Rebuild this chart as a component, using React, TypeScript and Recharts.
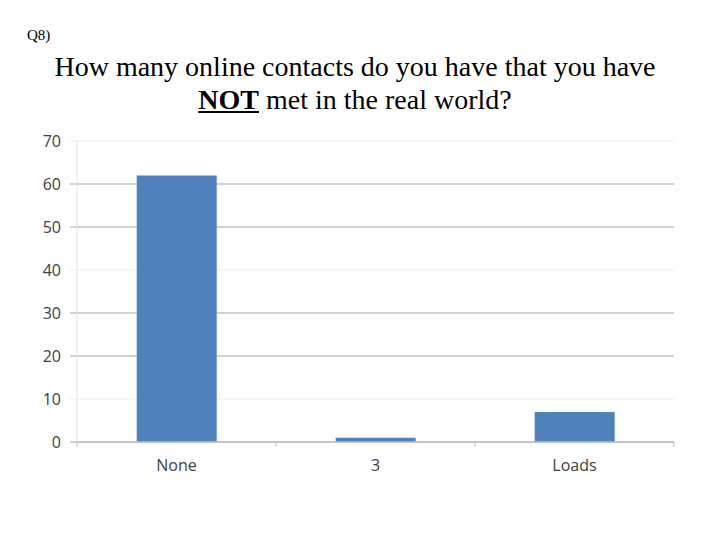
import React from "react";
import { BarChart, Bar, XAxis, YAxis, CartesianGrid } from "recharts";

// categories and counts
const categories = ["None", "3", "Loads"];
const counts = [62, 1, 7];
const yTicks = [0, 10, 20, 30, 40, 50, 60, 70];
const yMax = 70;
// gridlines that are barely visible in the original
const faintLines = [10, 40, 70];

const data = categories.map((name, i) => ({ name, count: counts[i] }));

const AXIS_TEXT = "#404040";
const GRID = "#c4c4c4";

// x tick: label in the middle, small tick marks on the category boundaries
function CategoryTick(props: any) {
  const { x, y, payload, index, width, visibleTicksCount } = props;
  const band = width / visibleTicksCount;
  const top = y - 5;
  return (
    <g>
      <line x1={x - band / 2} x2={x - band / 2} y1={top} y2={top + 5} stroke="#bfbfbf" />
      {index === visibleTicksCount - 1 && (
        <line x1={x + band / 2} x2={x + band / 2} y1={top} y2={top + 5} stroke="#bfbfbf" />
      )}
      <text x={x} y={y + 24} textAnchor="middle" fontSize={16} fill={AXIS_TEXT} fontFamily="'Open Sans', sans-serif">
        {payload.value}
      </text>
    </g>
  );
}

function GridLine(props: any) {
  const { x1, x2, y1, y2, offset } = props;
  const value = offset ? Math.round((yMax * (offset.top + offset.height - y1)) / offset.height) : 0;
  const faint = faintLines.includes(value);
  return <line x1={x1 - 7} x2={x2} y1={y1} y2={y2} stroke={faint ? "#f3f3f3" : GRID} strokeWidth={1.5} />;
}

export default function App() {
  return (
    <div style={{ position: "absolute", left: 0, top: 0, width: 720, height: 540, background: "#fff" }}>
      <div style={{ position: "absolute", left: 27, top: 27, fontFamily: "'Liberation Serif', serif", fontSize: 15 }}>
        Q8)
      </div>
      <div
        style={{
          position: "absolute",
          left: 0,
          top: 50,
          width: 710,
          textAlign: "center",
          fontFamily: "'Liberation Serif', serif",
          fontSize: 28,
          lineHeight: "33px",
        }}
      >
        How many online contacts do you have that you have
        <br />
        <b style={{ textDecoration: "underline" }}>NOT</b> met in the real world?
      </div>
      <div style={{ position: "absolute", left: 0, top: 0 }}>
        <BarChart
          width={720}
          height={540}
          data={data}
          margin={{ top: 141, right: 46, bottom: 48, left: 17 }}
          barCategoryGap="30%"
        >
          <CartesianGrid vertical={false} horizontal={<GridLine />} />
          <XAxis
            dataKey="name"
            axisLine={{ stroke: "#bfbfbf", strokeWidth: 1.5 }}
            tickLine={false}
            tickSize={5}
            tickMargin={0}
            tick={<CategoryTick />}
            interval={0}
            height={50}
          />
          <YAxis
            width={60}
            domain={[0, yMax]}
            ticks={yTicks}
            interval={0}
            axisLine={{ stroke: "#e4e4e4" }}
            tickLine={false}
            tickSize={7}
            tickMargin={9}
            tick={{ fontSize: 16, fill: AXIS_TEXT, fontFamily: "'Open Sans', sans-serif" }}
          />
          <Bar dataKey="count" fill="#4f81bd" isAnimationActive={false} />
        </BarChart>
      </div>
    </div>
  );
}
